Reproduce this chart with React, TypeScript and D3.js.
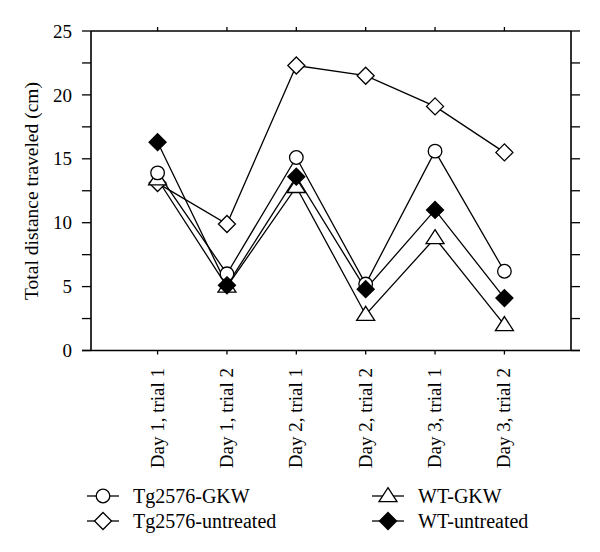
import React from "react";
import * as d3 from "d3";

const categories = ["Day 1, trial 1", "Day 1, trial 2", "Day 2, trial 1", "Day 2, trial 2", "Day 3, trial 1", "Day 3, trial 2"];
const tgGkw = [13.9, 6.0, 15.1, 5.2, 15.6, 6.2];
const tgUntreated = [13.1, 9.9, 22.3, 21.5, 19.1, 15.5];
const wtGkw = [13.4, 5.0, 12.8, 2.8, 8.8, 2.0];
const wtUntreated = [16.3, 5.1, 13.6, 4.8, 11.0, 4.1];
const yTicks = [0, 5, 10, 15, 20, 25];
const yMinorTicks = [0, 2.5, 5, 7.5, 10, 12.5, 15, 17.5, 20, 22.5, 25];

type Marker = "circle" | "diamond" | "triangle" | "diamondFilled";
const series: { name: string; values: number[]; marker: Marker }[] = [
  { name: "Tg2576-untreated", values: tgUntreated, marker: "diamond" },
  { name: "WT-GKW", values: wtGkw, marker: "triangle" },
  { name: "Tg2576-GKW", values: tgGkw, marker: "circle" },
  { name: "WT-untreated", values: wtUntreated, marker: "diamondFilled" },
];

const L = 91, R = 571, T = 31, B = 350.5;
const x = d3.scalePoint<string>().domain(categories).range([L, R]).padding(0.96);
const y = d3.scaleLinear().domain([0, 25]).range([B, T]);
const line = d3.line<number>().x((_, i) => x(categories[i])!).y((v) => y(v));

function MarkerShape({ m, cx, cy }: { m: Marker; cx: number; cy: number }) {
  if (m === "circle") return <circle cx={cx} cy={cy} r={6.8} fill="#fff" stroke="#000" strokeWidth={1.3} />;
  if (m === "diamond" || m === "diamondFilled") {
    const s = 8.5;
    return (
      <path
        d={`M${cx},${cy - s}L${cx + s},${cy}L${cx},${cy + s}L${cx - s},${cy}Z`}
        fill={m === "diamondFilled" ? "#000" : "#fff"}
        stroke="#000"
        strokeWidth={1.3}
      />
    );
  }
  const w = 9, h = 14;
  return (
    <path
      d={`M${cx},${cy - h * 0.6}L${cx + w},${cy + h * 0.4}L${cx - w},${cy + h * 0.4}Z`}
      fill="#fff"
      stroke="#000"
      strokeWidth={1.3}
    />
  );
}

const font = "'Liberation Serif', 'Times New Roman', serif";

export default function App() {
  const legend = [
    { name: "Tg2576-GKW", marker: "circle" as Marker, lx: 103, ly: 496 },
    { name: "Tg2576-untreated", marker: "diamond" as Marker, lx: 103, ly: 521 },
    { name: "WT-GKW", marker: "triangle" as Marker, lx: 388, ly: 496 },
    { name: "WT-untreated", marker: "diamondFilled" as Marker, lx: 388, ly: 521 },
  ];
  return (
    <svg width={600} height={552} style={{ position: "absolute", left: 0, top: 0, background: "#fff", fontFamily: font }}>
      <rect x={0} y={0} width={600} height={552} fill="#fff" />
      <path d={`M${L},${T}L${L},${B}M${R},${T}L${R},${B}M${L},${T}L${R},${T}M${L - 9},${B}L${R + 9},${B}`} stroke="#000" strokeWidth={1.6} fill="none" />
      {yMinorTicks.map((t) => (
        <g key={t}>
          <line x1={L - 9} x2={L} y1={y(t)} y2={y(t)} stroke="#000" strokeWidth={1.3} />
          <line x1={R} x2={R + 9} y1={y(t)} y2={y(t)} stroke="#000" strokeWidth={1.3} />
        </g>
      ))}
      {yTicks.map((t) => (
        <text key={t} x={72} y={y(t)} dy="0.35em" textAnchor="end" fontSize={19} style={{ fontFamily: font }}>
          {t}
        </text>
      ))}
      {categories.map((c) => (
        <g key={c}>
          <line x1={x(c)} x2={x(c)} y1={T - 4} y2={T} stroke="#000" strokeWidth={1.3} />
          <line x1={x(c)} x2={x(c)} y1={B} y2={B + 4} stroke="#000" strokeWidth={1.3} />
          <text transform={`translate(${x(c)! + 6},368) rotate(-90)`} textAnchor="end" fontSize={19} style={{ fontFamily: font }}>
            {c}
          </text>
        </g>
      ))}
      <text transform={`translate(38,191) rotate(-90)`} textAnchor="middle" fontSize={19.5} style={{ fontFamily: font }}>
        Total distance traveled (cm)
      </text>
      {series.map((s) => (
        <path key={s.name} d={line(s.values)!} fill="none" stroke="#000" strokeWidth={1.3} />
      ))}
      {series.map((s) =>
        s.values.map((v, i) => <MarkerShape key={s.name + i} m={s.marker} cx={x(categories[i])!} cy={y(v)} />)
      )}
      {legend.map((l) => (
        <g key={l.name}>
          <line x1={l.lx - 16} x2={l.lx + 16} y1={l.ly} y2={l.ly} stroke="#000" strokeWidth={1.3} />
          <MarkerShape m={l.marker} cx={l.lx} cy={l.ly} />
          <text x={l.lx + 30} y={l.ly} dy="0.33em" fontSize={20} style={{ fontFamily: font }}>
            {l.name}
          </text>
        </g>
      ))}
    </svg>
  );
}
